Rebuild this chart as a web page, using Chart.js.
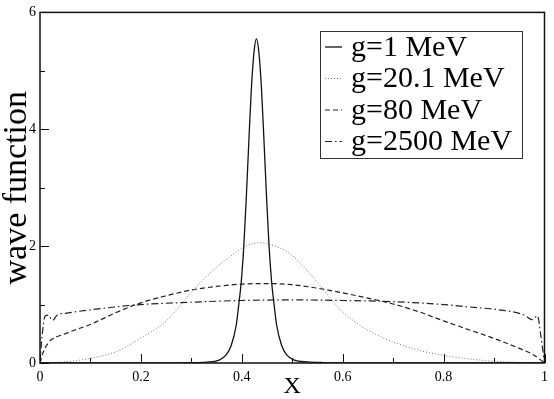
<!DOCTYPE html>
<html>
<head>
<meta charset="utf-8">
<script src="https://cdn.jsdelivr.net/npm/chart.js@4/dist/chart.umd.min.js"></script>
<style>
  html, body { margin: 0; padding: 0; background: #fff; }
</style>
</head>
<body>
<canvas id="chart" width="554" height="399"></canvas>
<script>
const seriesLabels = ['g=1 MeV', 'g=20.1 MeV', 'g=80 MeV', 'g=2500 MeV'];

// g=1 MeV (solid)
const xG1 = [0, 0.25, 0.30, 0.33, 0.355, 0.369, 0.379, 0.389, 0.394, 0.399, 0.404, 0.409, 0.414, 0.419, 0.424, 0.429,
             0.434, 0.439, 0.444, 0.449, 0.454, 0.459, 0.464, 0.469, 0.479, 0.489, 0.504, 0.53, 0.56, 0.6, 0.7, 1.0];
const yG1 = [0, 0.001, 0.005, 0.015, 0.05, 0.14, 0.3, 0.65, 1.0, 1.4, 2.0, 2.85, 3.8, 4.7, 5.3, 5.55,
             5.3, 4.7, 3.8, 2.85, 2.0, 1.4, 1.0, 0.65, 0.3, 0.14, 0.05, 0.02, 0.008, 0.003, 0, 0];

// g=20.1 MeV (dotted)
const xG20 = [0, 0.05, 0.1, 0.15, 0.2, 0.25, 0.3, 0.35, 0.375, 0.4, 0.42, 0.435, 0.45, 0.475, 0.5, 0.525, 0.55,
              0.575, 0.6, 0.625, 0.65, 0.7, 0.75, 0.8, 0.85, 0.9, 0.95, 1];
const yG20 = [0, 0.02, 0.08, 0.19, 0.43, 0.72, 1.21, 1.64, 1.81, 1.96, 2.04, 2.06, 2.04, 1.97, 1.84, 1.62, 1.38,
              1.11, 0.87, 0.70, 0.56, 0.36, 0.22, 0.13, 0.07, 0.03, 0.01, 0];

// g=80 MeV (dashed)
const xG80 = [0, 0.005, 0.016, 0.05, 0.1, 0.15, 0.2, 0.25, 0.3, 0.35, 0.4, 0.45, 0.5, 0.55, 0.6, 0.65, 0.7, 0.75, 0.8, 0.85, 0.9, 0.95, 0.98, 1];
const yG80 = [0, 0.15, 0.34, 0.5, 0.66, 0.86, 1.03, 1.15, 1.25, 1.31, 1.35, 1.36, 1.34, 1.28, 1.2, 1.11, 1.01, 0.88, 0.72, 0.57, 0.42, 0.25, 0.13, 0];

// g=2500 MeV (dash-dot)
const xG2500 = [0, 0.004, 0.01, 0.016, 0.025, 0.034, 0.05, 0.1, 0.15, 0.2, 0.3, 0.4, 0.5, 0.6, 0.7, 0.8, 0.85, 0.9, 0.94, 0.96, 0.976, 0.986, 0.993, 1];
const yG2500 = [0, 0.45, 0.8, 0.82, 0.73, 0.82, 0.85, 0.91, 0.96, 1.0, 1.04, 1.07, 1.08, 1.07, 1.05, 1.0, 0.96, 0.92, 0.87, 0.82, 0.74, 0.81, 0.45, 0];

const xTicks = [0, 0.2, 0.4, 0.6, 0.8, 1];
const xTickLabels = ['0', '0.2', '0.4', '0.6', '0.8', '1'];
const xMinorTicks = [0.1, 0.3, 0.5, 0.7, 0.9];
const yTicks = [0, 2, 4, 6];
const yTickLabels = ['0', '2', '4', '6'];
const yMinorTicks = [1, 3, 5];

const serif = '"Liberation Serif", "DejaVu Serif", serif';

function toPoints(xs, ys) {
    return xs.map((x, i) => ({ x: x, y: ys[i] }));
}

const lineStyles = [
    { color: '#111', dash: [], width: 1.3 },
    { color: '#777', dash: [1, 2], width: 1 },
    { color: '#222', dash: [5, 3], width: 1.2 },
    { color: '#222', dash: [7, 3, 1.5, 3], width: 1.2 }
];

const frameAndLegend = {
    id: 'frameAndLegend',
    afterDraw(chart) {
        const ctx = chart.ctx;
        const area = chart.chartArea;
        const xs = chart.scales.x;
        const ys = chart.scales.y;

        ctx.save();
        ctx.strokeStyle = '#111';
        ctx.lineWidth = 1.5;
        ctx.setLineDash([]);
        ctx.strokeRect(area.left, area.top, area.right - area.left, area.bottom - area.top);

        // inward ticks on bottom and left
        ctx.lineWidth = 1;
        ctx.beginPath();
        xTicks.forEach(v => {
            const px = Math.round(xs.getPixelForValue(v)) + 0.5;
            ctx.moveTo(px, area.bottom); ctx.lineTo(px, area.bottom - 9);
        });
        xMinorTicks.forEach(v => {
            const px = Math.round(xs.getPixelForValue(v)) + 0.5;
            ctx.moveTo(px, area.bottom); ctx.lineTo(px, area.bottom - 5);
        });
        yTicks.forEach(v => {
            const py = Math.round(ys.getPixelForValue(v)) + 0.5;
            ctx.moveTo(area.left, py); ctx.lineTo(area.left + 9, py);
        });
        yMinorTicks.forEach(v => {
            const py = Math.round(ys.getPixelForValue(v)) + 0.5;
            ctx.moveTo(area.left, py); ctx.lineTo(area.left + 5, py);
        });
        ctx.stroke();

        // legend box
        const bx = 320.5, by = 31.5, bw = 202, bh = 127;
        ctx.fillStyle = '#fff';
        ctx.fillRect(bx, by, bw, bh);
        ctx.strokeStyle = '#333';
        ctx.lineWidth = 1;
        ctx.strokeRect(bx, by, bw, bh);

        ctx.font = '30px ' + serif;
        ctx.textBaseline = 'middle';
        ctx.textAlign = 'left';
        ctx.fillStyle = '#000';
        chart.data.datasets.forEach((ds, i) => {
            const rowY = 47 + i * 31.5;
            const st = lineStyles[i];
            ctx.strokeStyle = st.color;
            ctx.lineWidth = st.width;
            ctx.setLineDash(st.dash);
            ctx.beginPath();
            ctx.moveTo(325, rowY);
            ctx.lineTo(342, rowY);
            ctx.stroke();
            ctx.fillText(ds.label, 351, rowY + 1);
        });
        ctx.restore();
    }
};

new Chart(document.getElementById('chart'), {
    type: 'scatter',
    data: {
        datasets: [
            { label: seriesLabels[0], data: toPoints(xG1, yG1) },
            { label: seriesLabels[1], data: toPoints(xG20, yG20) },
            { label: seriesLabels[2], data: toPoints(xG80, yG80) },
            { label: seriesLabels[3], data: toPoints(xG2500, yG2500) }
        ].map((ds, i) => Object.assign(ds, {
            showLine: true,
            borderColor: lineStyles[i].color,
            borderWidth: lineStyles[i].width,
            borderDash: lineStyles[i].dash,
            pointRadius: 0,
            cubicInterpolationMode: 'monotone',
            fill: false
        }))
    },
    options: {
        responsive: false,
        devicePixelRatio: 1,
        animation: false,
        layout: { padding: { top: 6, right: 5, left: 0, bottom: 0 } },
        plugins: {
            legend: { display: false },
            tooltip: { enabled: false }
        },
        scales: {
            x: {
                type: 'linear',
                min: 0,
                max: 1,
                grid: { display: false, drawTicks: false },
                border: { display: false },
                afterBuildTicks: scale => { scale.ticks = xTicks.map(v => ({ value: v })); },
                afterFit: scale => { scale.height = 36; },
                ticks: {
                    padding: 6,
                    color: '#000',
                    maxRotation: 0,
                    font: { family: serif, size: 14 },
                    callback: (v, i) => xTickLabels[i]
                },
                title: {
                    display: true,
                    text: 'X',
                    color: '#000',
                    font: { family: serif, size: 24, lineHeight: 1 },
                    padding: { top: 0, bottom: 0 }
                }
            },
            y: {
                type: 'linear',
                min: 0,
                max: 6,
                grid: { display: false, drawTicks: false },
                border: { display: false },
                afterBuildTicks: scale => { scale.ticks = yTicks.map(v => ({ value: v })); },
                afterFit: scale => { scale.width = 40; },
                ticks: {
                    padding: 4,
                    color: '#000',
                    font: { family: serif, size: 14 },
                    callback: (v, i) => yTickLabels[i]
                },
                title: {
                    display: true,
                    text: 'wave function',
                    color: '#000',
                    font: { family: serif, size: 34, lineHeight: 1 },
                    padding: { top: 0, bottom: 0 }
                }
            }
        }
    },
    plugins: [frameAndLegend]
});
</script>
</body>
</html>
